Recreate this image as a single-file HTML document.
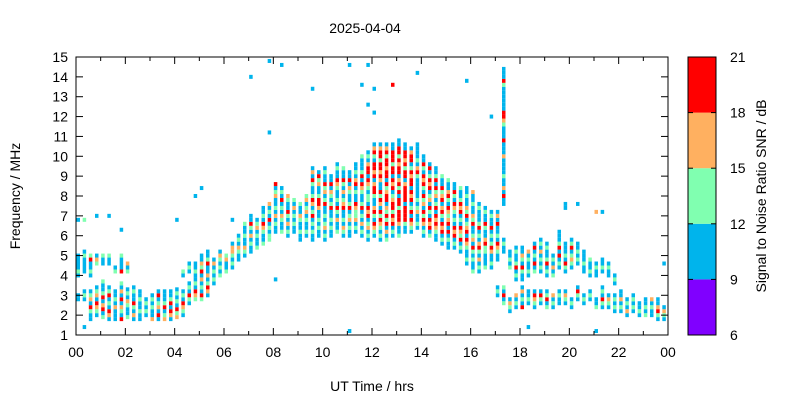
<!DOCTYPE html>
<html><head><meta charset="utf-8"><style>
body{margin:0;background:#fff}
svg text{font-family:"Liberation Sans",sans-serif;fill:#000}
</style></head><body>
<svg id="c" width="800" height="400" xmlns="http://www.w3.org/2000/svg">
<text x="365" y="33" text-anchor="middle" font-size="14">2025-04-04</text>
<text x="372" y="391" text-anchor="middle" font-size="14">UT Time / hrs</text>
<text transform="translate(20,196) rotate(-90)" text-anchor="middle" font-size="14">Frequency / MHz</text>
<text transform="translate(766,196) rotate(-90)" text-anchor="middle" font-size="14">Signal to Noise Ratio SNR / dB</text>
<g id="marks"></g>
<g id="axes"></g>
<g id="cbar"></g>
</svg>
<script>
const xTicks=["00","02","04","06","08","10","12","14","16","18","20","22","00"];
const yTicks=[1,2,3,4,5,6,7,8,9,10,11,12,13,14,15];
const cbTicks=[6,9,12,15,18,21];
const cbColors=["#8000ff","#00b4ec","#80ffb0","#ffb060","#ff0000"];
const snrCode={b:10,g:13,o:16,r:19};
// [hour, start frequency MHz, SNR codes at 0.2 MHz steps]
const obs=[
[0,2.8,"bb"],[0,4.0,"bgbbbb"],[0,6.8,"b"],
[0.25,2.8,"bgb"],[0.25,4.2,"bbbbgb"],[0.25,1.4,"b"],[0.25,6.8,"g"],
[0.5,1.8,"bbgrbogb"],[0.5,4.0,"bgbbrg"],
[0.75,2.0,"bgorbogb"],[0.75,4.6,"gob"],[0.75,7.0,"b"],
[1,1.9,"gbrobrgbbg"],[1,4.6,"bbg"],
[1.25,1.8,"borbgbrgb"],[1.25,4.6,"bbg"],[1.25,7,"b"],
[1.5,1.8,"bbbobgbb"],[1.5,4.2,"gb"],
[1.75,1.8,"rbgobrbobg"],[1.75,4.2,"rbbbg"],[1.75,6.3,"b"],
[2,1.9,"gbbgobgb"],[2,4.2,"gbo"],
[2.25,1.8,"bobgrbbgb"],[2.5,1.8,"bbgbbgbb"],[2.75,2.0,"bgbgb"],
[3,1.8,"obbgbgb"],[3.25,1.8,"brbogbrb"],[3.5,1.8,"ogbrgbbb"],[3.75,1.8,"borbrgbb"],
[4,1.9,"ogrbgbgb"],[4,6.8,"b"],
[4.25,2.0,"bgorbgb"],[4.25,4.0,"bg"],
[4.5,2.6,"bgrbgb"],[4.5,4.2,"bgb"],
[4.75,2.8,"gorbgbbgbb"],[4.75,8.0,"b"],
[5,2.8,"grbgbobrgobb"],[5,8.4,"b"],
[5.25,3.0,"borgbobbrgbb"],[5.5,3.6,"bgbgbob"],[5.75,4.0,"gbgbgob"],
[6,4.2,"gbbog"],[6.25,4.4,"bgbgoob"],[6.25,6.8,"b"],
[6.5,4.8,"bbgobgb"],[6.75,5.0,"bgobbgbbg"],
[7,5.2,"bbgbobgrbb"],[7,14.0,"b"],[7.25,5.4,"gbbgbogb"],
[7.5,5.6,"gbbgorbgbb"],[7.75,5.8,"ggbgbrbgbo"],[7.75,11.2,"b"],[7.75,14.8,"b"],
[8,6.2,"bbgbobgbbogbr"],[8,3.8,"b"],[8.25,6.2,"gbbgobgbrbgb"],[8.25,14.6,"b"],
[8.5,6.0,"bgbobgrbbgo"],[8.75,6.2,"bbgbgbobg"],[9,5.8,"bbgbbgobbg"],
[9.25,6.0,"bgbbgbogbog"],
[9.5,5.8,"bbgbgbrgborgbbgrbob"],[9.5,13.4,"b"],
[9.75,6.0,"bbgbgbborrgbbogrb"],
[10,5.8,"bgbogbgbbrgbogrbbgb"],
[10.25,6.0,"bbgbgbbrgbgobrbb"],
[10.5,6.2,"gbbobgrbgbbgorbbgb"],
[10.75,6.0,"bgobgbbrogbobgrbbg"],
[11,6.0,"bbgbogbrgbbgobrbb"],[11,14.6,"b"],[11,1.2,"b"],
[11.25,6.2,"bgboggorbbgbrobgbb"],
[11.5,6.0,"bgbobgbrgbbgorbrgbbbg"],[11.5,13.6,"b"],
[11.75,5.8,"bgbogbrorbggbgorbrrobgb"],[11.75,12.6,"b"],[11.75,14.6,"b"],
[12,6.0,"bgorbgrobbgrrobrorrbgrob"],[12,13.4,"b"],[12,12.2,"b"],
[12.25,5.8,"bgbgorgrborgrbbororrgrrob"],
[12.5,5.8,"gbobrgrgobrrogrbrrorrgrob"],
[12.75,6.0,"bgbrorgrrogbrorbrrgrrrbb"],[12.75,13.6,"r"],
[13,6.0,"gbborrrgrrbrgrobrrorgrrbb"],
[13.25,6.2,"bbgrrrrbrrrrobrrgrorrbb"],
[13.5,6.2,"bgorbrgbrorbrrorgbrrob"],
[13.75,6.4,"bgbbogbgbbbbbgrobgbbbb"],[13.75,14.2,"b"],
[14,6.0,"bgborgrbogrbgrorbgrbb"],
[14.25,6.0,"gbrorbgrbogbrorgbrb"],
[14.5,5.8,"bbgororbrgbogrbrgbb"],
[14.75,5.6,"bgbrorbgrobrogrbbg"],
[15,5.4,"bbgbrbrogorbgrobbg"],
[15.25,5.4,"bgbrorbgbgorbgrbb"],
[15.5,5.2,"bgbrgorbgbrorgbbg"],
[15.75,4.6,"bgbbgorbrogbrgobbgbb"],[15.75,13.8,"b"],
[16,4.2,"gbbgbgrbogbbrgobbgbbo"],
[16.25,4.2,"bgbobgrobgbrgbbbgb"],
[16.5,4.4,"gbbbggrobbgrbbgb"],
[16.75,4.4,"bgbborgbgbrbbgb"],[16.75,12,"b"],
[17,4.8,"bbgorbgbbrbob"],[17,3.0,"bgb"],
[17.25,5.2,"bbgb"],[17.25,7.6,"bbrbobbgbbbbobbbrbbbgorrbbbbbbgrbbb"],[17.25,2.6,"gbrbg"],
[17.5,4.4,"gbgbb"],[17.5,2.2,"bgob"],
[17.75,3.8,"bgbrgbbgb"],[17.75,2.4,"bgbo"],
[18,3.8,"bbgrbgobb"],[18,2.4,"rbgbob"],
[18.25,4.0,"bgbbgbo"],[18.25,2.6,"bgbb"],[18.25,1.4,"b"],
[18.5,4.2,"gbrbgbrb"],[18.5,2.4,"bgorb"],
[18.75,4.2,"bgbgbobgb"],[18.75,2.6,"bgrb"],
[19,4.0,"bgbrgbbgb"],[19,2.4,"gbrgb"],
[19.25,4.0,"gbobgb"],[19.25,2.4,"bgbo"],
[19.5,4.4,"bgbrbrgbbb"],[19.5,2.6,"bbgb"],
[19.75,4.2,"bgrbgbbb"],[19.75,2.6,"bgob"],[19.75,7.4,"bb"],
[20,4.4,"bgogbrgb"],[20,2.4,"bgb"],
[20.25,4.6,"bgbgbb"],[20.25,2.8,"bgrb"],[20.25,7.6,"b"],
[20.5,4.2,"bbgbbb"],[20.5,2.6,"bgb"],
[20.75,4.0,"bgbbg"],[20.75,2.8,"bgb"],
[21,4.0,"bbgb"],[21,2.4,"gbb"],[21,1.2,"b"],[21,7.2,"o"],
[21.25,4.2,"bgbb"],[21.25,2.4,"bgrbgb"],[21.25,7.2,"b"],
[21.5,4.0,"bbgb"],[21.5,2.4,"bgob"],
[21.75,3.6,"bgb"],[21.75,2.2,"bgbgb"],
[22,2.2,"bgbobb"],[22.25,2.0,"bobgb"],[22.5,2.2,"bgbgb"],[22.75,2.0,"bgbb"],
[23,2.0,"gbgbb"],[23.25,2.0,"bbgbo"],[23.5,1.8,"bgrob"],[23.5,2.8,"b"],
[23.75,1.8,"bgob"],[23.75,4.6,"b"]
];
const NS="http://www.w3.org/2000/svg";
const L=76,R=668,T=57,B=335;
const xs=h=>L+h/24*(R-L);
const ys=f=>B-(f-1)/14*(B-T);
const col=v=>cbColors[Math.max(0,Math.min(4,Math.floor((v-6)/3)))];
function mk(tag,at,parent){const e=document.createElementNS(NS,tag);for(const k in at)e.setAttribute(k,at[k]);parent.appendChild(e);return e;}
const marks=document.getElementById('marks');
obs.forEach(o=>{
  [...o[2]].forEach((ch,i)=>{
    if(!snrCode[ch])return;
    const f=o[1]+i*0.2;
    const r=mk('rect',{x:xs(o[0])+0.5,y:ys(f)-2,width:3.5,height:4,fill:col(snrCode[ch])},marks);
    
    
  });
});
const ax=document.getElementById('axes');
mk('rect',{x:L,y:T,width:R-L,height:B-T,fill:'none',stroke:'#000','stroke-width':1},ax);
for(let h=0;h<=24;h++){
  const x=xs(h);
  mk('line',{x1:x,x2:x,y1:B,y2:B-(h%2?4:7),stroke:'#000'},ax);
  mk('line',{x1:x,x2:x,y1:T,y2:T+(h%2?4:7),stroke:'#000'},ax);
}
xTicks.forEach((t,i)=>{
  const e=mk('text',{x:xs(i*2),y:B+22,'text-anchor':'middle','font-size':14},ax);e.textContent=t;
  
  
});
yTicks.forEach(v=>{
  const y=ys(v);
  mk('line',{x1:L,x2:L+7,y1:y,y2:y,stroke:'#000'},ax);
  mk('line',{x1:R,x2:R-7,y1:y,y2:y,stroke:'#000'},ax);
  const e=mk('text',{x:L-8,y:y+5,'text-anchor':'end','font-size':14},ax);e.textContent=v;
  
  
});
const cb=document.getElementById('cbar');
const cbY=v=>B-(v-6)/15*(B-T);
cbColors.forEach((c,i)=>{
  const r=mk('rect',{x:688,y:cbY(cbTicks[i+1]),width:28,height:cbY(cbTicks[i])-cbY(cbTicks[i+1]),fill:c},cb);
  
  
});
mk('rect',{x:688,y:T,width:28,height:B-T,fill:'none',stroke:'#000'},cb);
cbTicks.forEach(v=>{
  const y=cbY(v);
  mk('line',{x1:688,x2:693,y1:y,y2:y,stroke:'#000'},cb);
  mk('line',{x1:716,x2:711,y1:y,y2:y,stroke:'#000'},cb);
  const e=mk('text',{x:730,y:y+5,'font-size':14},cb);e.textContent=v;
  
  
});
</script>
</body></html>
